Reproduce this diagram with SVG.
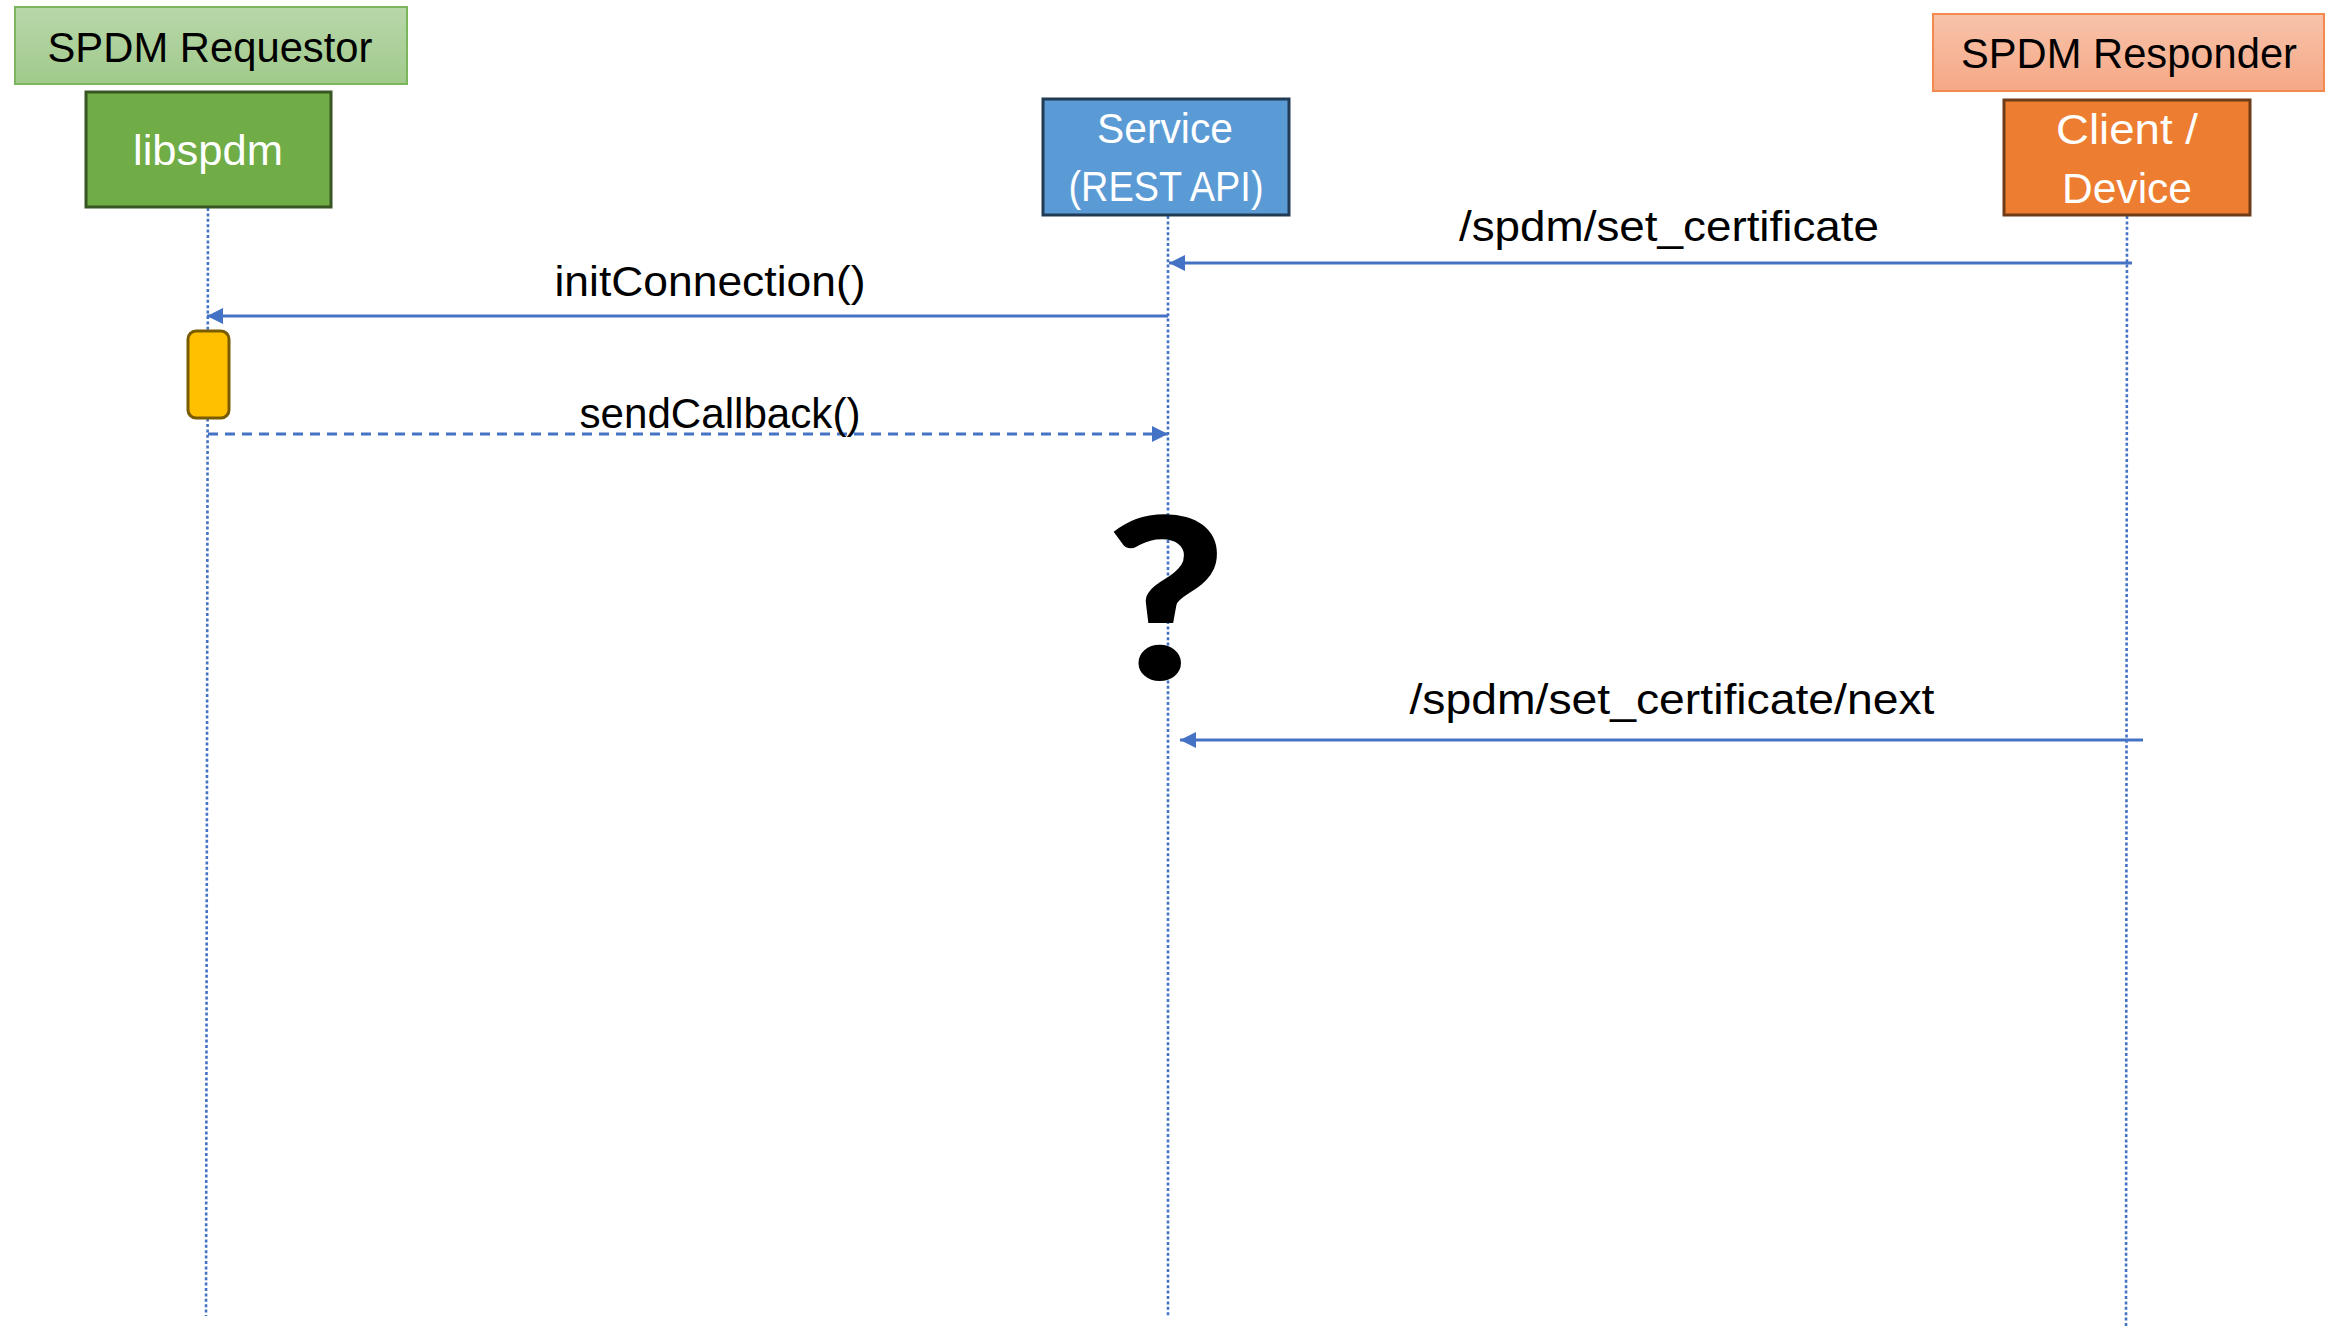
<svg xmlns="http://www.w3.org/2000/svg" width="2344" height="1326" viewBox="0 0 2344 1326">
<defs>
<linearGradient id="gReq" x1="0" y1="0" x2="0" y2="1"><stop offset="0" stop-color="#b8d7aa"/><stop offset="1" stop-color="#a0ca8b"/></linearGradient>
<linearGradient id="gResp" x1="0" y1="0" x2="0" y2="1"><stop offset="0" stop-color="#f8c3aa"/><stop offset="1" stop-color="#f5a886"/></linearGradient>
<marker id="ah" markerUnits="userSpaceOnUse" markerWidth="18" markerHeight="16" refX="16" refY="8" orient="auto"><path d="M0,0 L16,8 L0,16 Z" fill="#4472C4"/></marker>
<style>
.lbl{font-family:"Liberation Sans",Arial,sans-serif;font-size:42px;text-anchor:middle}
.w{fill:#ffffff}
.k{fill:#000000}
.msg{font-family:"Liberation Sans",Arial,sans-serif;font-size:43px;text-anchor:middle;fill:#000}
.life{stroke:#4472C4;stroke-width:2.6;stroke-dasharray:3 2.4;fill:none}
.arr{stroke:#4472C4;stroke-width:3;fill:none}
</style>
</defs>
<rect width="2344" height="1326" fill="#ffffff"/>

<g id="lifelines">
<line class="life" x1="208" y1="208" x2="206" y2="1316"/>
<line class="life" x1="1168" y1="216" x2="1168" y2="1317"/>
<line class="life" x1="2127" y1="216" x2="2126" y2="1326"/>
</g>

<g id="spdm-requestor">
<rect x="15" y="7" width="392" height="77" fill="url(#gReq)" stroke="#7cb65c" stroke-width="2"/>
<text class="lbl k" x="210" y="62" textLength="325" lengthAdjust="spacingAndGlyphs">SPDM Requestor</text>
</g>

<g id="libspdm">
<rect x="86" y="92" width="245" height="115" fill="#70AD47" stroke="#375623" stroke-width="3"/>
<text class="lbl w" x="208" y="165" textLength="150" lengthAdjust="spacingAndGlyphs">libspdm</text>
</g>

<g id="service">
<rect x="1043" y="99" width="246" height="116" fill="#5B9BD5" stroke="#213b55" stroke-width="3"/>
<text class="lbl w" x="1165" y="143" textLength="136" lengthAdjust="spacingAndGlyphs">Service</text>
<text class="lbl w" x="1166" y="201" textLength="195" lengthAdjust="spacingAndGlyphs">(REST API)</text>
</g>

<g id="spdm-responder">
<rect x="1933" y="14" width="391" height="77" fill="url(#gResp)" stroke="#f2894d" stroke-width="2"/>
<text class="lbl k" x="2129" y="68" textLength="336" lengthAdjust="spacingAndGlyphs">SPDM Responder</text>
</g>

<g id="client-device">
<rect x="2004" y="100" width="246" height="115" fill="#ED7D31" stroke="#6e3c18" stroke-width="3"/>
<text class="lbl w" x="2127" y="144" textLength="142" lengthAdjust="spacingAndGlyphs" font-size="44">Client /</text>
<text class="lbl w" x="2127" y="203" textLength="130" lengthAdjust="spacingAndGlyphs" font-size="44">Device</text>
</g>

<g id="activation">
<rect x="188" y="331" width="41" height="87" rx="8" ry="8" fill="#FFC000" stroke="#7a5c00" stroke-width="3"/>
</g>

<g id="connectors">
<line class="arr" x1="2132" y1="263" x2="1169" y2="263" marker-end="url(#ah)"/>
<line class="arr" x1="1168" y1="316" x2="207" y2="316" marker-end="url(#ah)"/>
<line class="arr" x1="208" y1="434" x2="1168" y2="434" stroke-dasharray="10 7" marker-end="url(#ah)"/>
<line class="arr" x1="2143" y1="740" x2="1180" y2="740" marker-end="url(#ah)"/>
</g>

<g id="labels">
<text class="msg" x="1669" y="241" textLength="420" lengthAdjust="spacingAndGlyphs">/spdm/set_certificate</text>
<text class="msg" x="710" y="296" textLength="311" lengthAdjust="spacingAndGlyphs">initConnection()</text>
<text class="msg" x="720" y="428" textLength="281" lengthAdjust="spacingAndGlyphs">sendCallback()</text>
<text class="msg" x="1672" y="714" textLength="525" lengthAdjust="spacingAndGlyphs">/spdm/set_certificate/next</text>
</g>

<g id="question">
<text transform="translate(1166,678) scale(1.16,1)" x="0" y="0" font-family="Lato, 'Liberation Sans', sans-serif" font-weight="bold" font-size="222" text-anchor="middle" fill="#000" stroke="#000" stroke-width="3">?</text>
</g>
</svg>
